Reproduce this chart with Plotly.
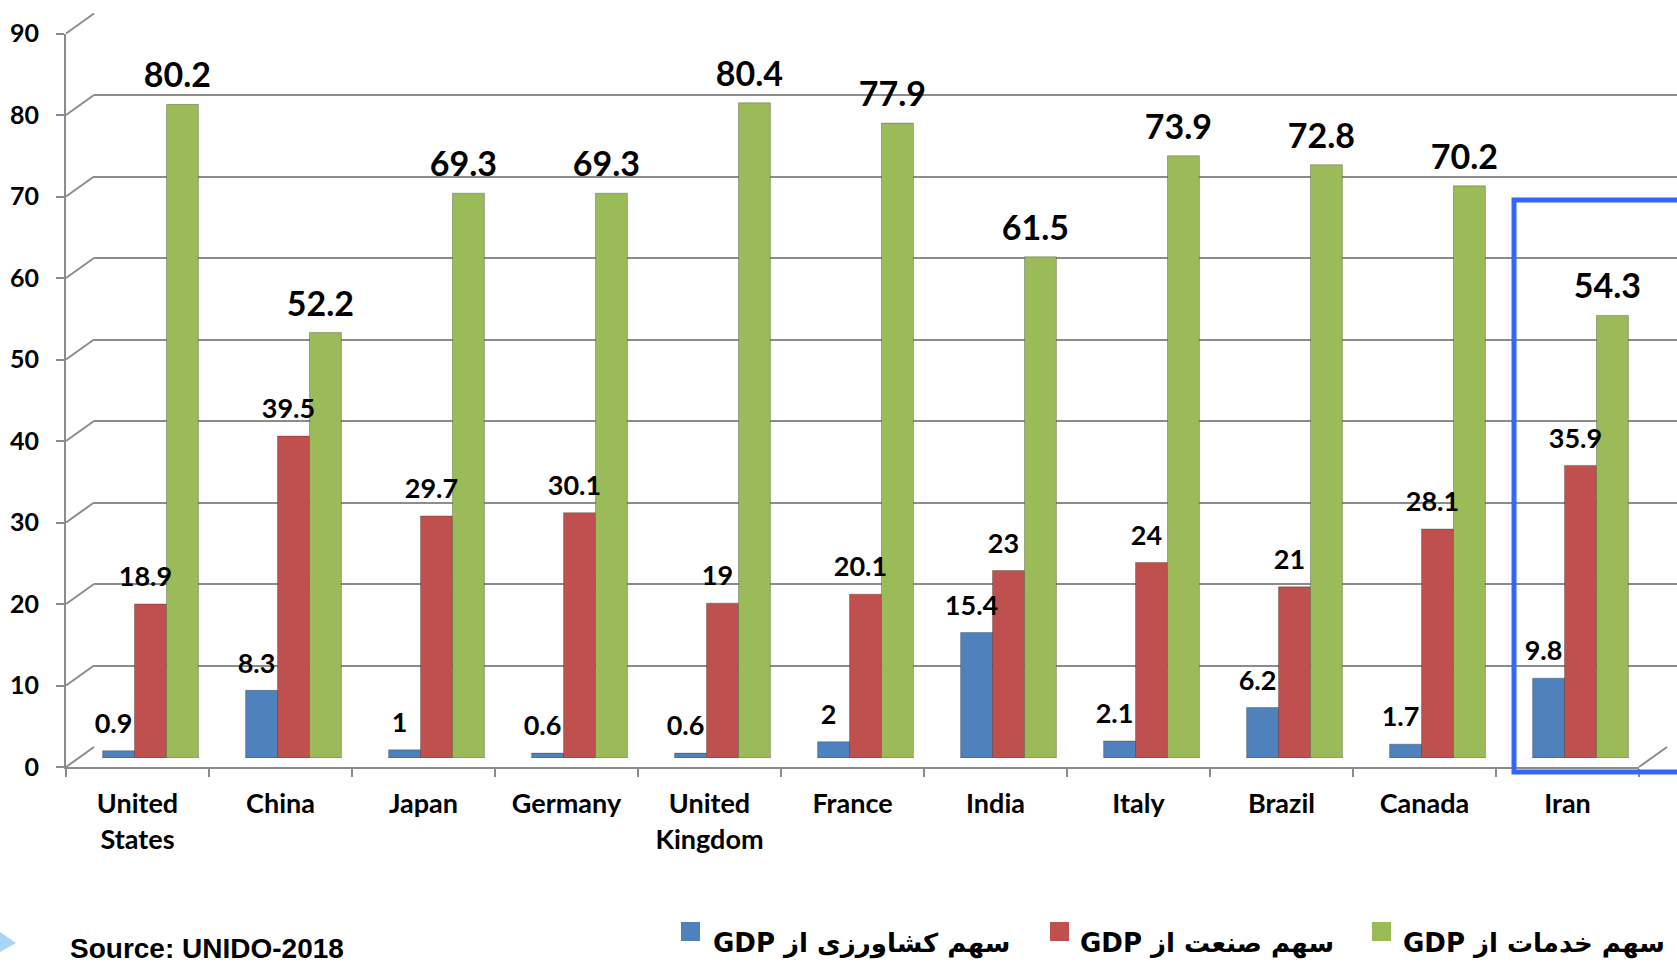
import plotly.graph_objects as go

# ---------------- data ----------------
countries = ["United<br>States", "China", "Japan", "Germany", "United<br>Kingdom",
             "France", "India", "Italy", "Brazil", "Canada", "Iran"]
agriculture = [0.9, 8.3, 1, 0.6, 0.6, 2, 15.4, 2.1, 6.2, 1.7, 9.8]
industry = [18.9, 39.5, 29.7, 30.1, 19, 20.1, 23, 24, 21, 28.1, 35.9]
services = [80.2, 52.2, 69.3, 69.3, 80.4, 77.9, 61.5, 73.9, 72.8, 70.2, 54.3]
series_names = ["سهم کشاورزی از", "سهم صنعت از", "سهم خدمات از"]
y_ticks = list(range(0, 100, 10))
source_text = "Source: UNIDO-2018"

# ---------------- geometry helpers (pixels -> paper) ----------------
W, H = 1677, 964
def px(x):
    return x / W
def py(y):
    return 1 - y / H

UNIT = 8.15          # pixels per value unit
NCAT = len(countries)
CAT_W = 143
XF0, YF0 = 66, 767   # front plane
XB0, YB0 = 94, 747   # back wall
XM0, YM0 = 79, 758   # bar plane
XT0 = XM0 - 5        # value-label plane (labels sit slightly left)

GRID = "#8c8c8c"
BLUE, RED, GREEN = "#4F81BD", "#C0504D", "#9BBB59"
FONT = "Lato"
GAP = 0.33

fig = go.Figure()
cats = [c.replace("<br>", " ") for c in countries]

# helper (empty) traces so that the frame subplots are drawn
fig.add_trace(go.Scatter(x=[], y=[], xaxis="x", yaxis="y", showlegend=False, hoverinfo="skip"))
fig.add_trace(go.Scatter(x=[], y=[], xaxis="x2", yaxis="y2", showlegend=False, hoverinfo="skip"))

series = [(agriculture, series_names[0], BLUE, 27, 16, "g1"),
          (industry, series_names[1], RED, 27, 16, "g2"),
          (services, series_names[2], GREEN, 34, 12, "g3")]
for vals, name, col, fs, ms, og in series:
    fig.add_trace(go.Bar(
        x=cats, y=vals, name=name, xaxis="x3", yaxis="y3", offsetgroup=og,
        marker=dict(color=col, line=dict(color="rgba(0,0,0,0.25)", width=1)),
        showlegend=False, hoverinfo="x+y",
    ))
for vals, name, col, fs, ms, og in series:
    fig.add_trace(go.Scatter(
        x=cats, y=vals, xaxis="x4", yaxis="y3", mode="markers+text", offsetgroup=og,
        marker=dict(size=ms, opacity=0),
        text=[f"{v:g}" for v in vals], textposition="top center",
        textfont=dict(family=FONT, size=fs, color="black", weight="bold"),
        cliponaxis=False, showlegend=False, hoverinfo="skip",
    ))

fig.update_layout(
    width=W, height=H, margin=dict(l=0, r=0, t=0, b=0, autoexpand=False),
    paper_bgcolor="white", plot_bgcolor="rgba(0,0,0,0)",
    barmode="group", bargap=GAP, bargroupgap=0,
    scattermode="group", scattergap=GAP,
    showlegend=False,
    xaxis=dict(domain=[px(XF0), px(XF0 + NCAT * CAT_W)], range=[-0.5, NCAT - 0.5],
               anchor="y", tickmode="array", tickvals=list(range(NCAT)), ticktext=countries,
               ticks="", showgrid=False, zeroline=False, automargin=False,
               showline=True, linecolor=GRID, linewidth=2,
               tickfont=dict(family=FONT, size=27, color="black", weight="bold"),
               ticklabelstandoff=12,
               minor=dict(tickmode="array", tickvals=[i - 0.5 for i in range(NCAT + 1)],
                          ticks="outside", ticklen=8, tickwidth=2, tickcolor=GRID)),
    yaxis=dict(domain=[py(YF0), py(YF0 - 90 * UNIT)], range=[0, 90], anchor="x",
               tickmode="array", tickvals=y_ticks, ticks="outside", ticklen=8,
               tickwidth=2, tickcolor=GRID, showline=True, linecolor=GRID, linewidth=2,
               showgrid=False, zeroline=False, ticklabelstandoff=12, automargin=False,
               tickfont=dict(family=FONT, size=25, color="black", weight="bold")),
    xaxis2=dict(domain=[px(XB0), 1], range=[0, 1], anchor="y2", visible=False,
                automargin=False),
    yaxis2=dict(domain=[py(YB0), py(YB0 - 90 * UNIT)], range=[0, 90], anchor="x2",
                tickmode="array", tickvals=y_ticks, showgrid=True, gridcolor=GRID,
                gridwidth=2, showticklabels=False, zeroline=False, ticks="",
                showline=False, automargin=False),
    xaxis3=dict(domain=[px(XM0), px(XM0 + NCAT * CAT_W)], anchor="y3", visible=False,
                type="category", range=[-0.5, NCAT - 0.5], automargin=False),
    yaxis3=dict(domain=[py(YM0), py(YM0 - 90 * UNIT)], range=[0, 90], anchor="x3",
                visible=False, automargin=False),
    xaxis4=dict(domain=[px(XT0), px(XT0 + NCAT * CAT_W)], anchor="y3", visible=False,
                type="category", range=[-0.5, NCAT - 0.5], automargin=False),
)

shapes = []
for v in y_ticks:
    shapes.append(dict(type="line", xref="paper", yref="paper",
                       x0=px(XF0), y0=py(YF0 - v * UNIT), x1=px(XB0), y1=py(YB0 - v * UNIT),
                       line=dict(color=GRID, width=2)))
xr = XF0 + NCAT * CAT_W
shapes.append(dict(type="line", xref="paper", yref="paper",
                   x0=px(xr), y0=py(YF0), x1=px(xr + XB0 - XF0), y1=py(YB0),
                   line=dict(color=GRID, width=2)))
shapes.append(dict(type="rect", xref="paper", yref="paper",
                   x0=px(1514), y0=py(772), x1=px(1700), y1=py(200),
                   line=dict(color="#3366ff", width=5)))
shapes.append(dict(type="path", xref="paper", yref="paper",
                   path=f"M0,{py(932)} L{px(16)},{py(943)} L0,{py(952)} Z",
                   fillcolor="#a8d4f7", line=dict(width=0)))

legend_items = [(681, 711, BLUE), (1050, 1078, RED), (1372, 1401, GREEN)]
annotations = []
for (sx, tx, col), name in zip(legend_items, series_names):
    shapes.append(dict(type="rect", xref="paper", yref="paper",
                       x0=px(sx), x1=px(sx + 19), y0=py(941), y1=py(922),
                       fillcolor=col, line=dict(width=0)))
    annotations.append(dict(xref="paper", yref="paper", x=px(tx), y=py(943),
                            xanchor="left", yanchor="middle", showarrow=False,
                            text="GDP " + name,
                            font=dict(family="DejaVu Sans", size=26, color="black",
                                      weight="bold")))
annotations.append(dict(xref="paper", yref="paper", x=px(68), y=py(948),
                        xanchor="left", yanchor="middle", showarrow=False,
                        text=source_text,
                        font=dict(family="Liberation Sans", size=28, color="black",
                                  weight="bold")))

fig.update_layout(shapes=shapes, annotations=annotations)

fig.write_html("out.html", config={"displayModeBar": False},
               post_script="document.body.style.margin='0';")
